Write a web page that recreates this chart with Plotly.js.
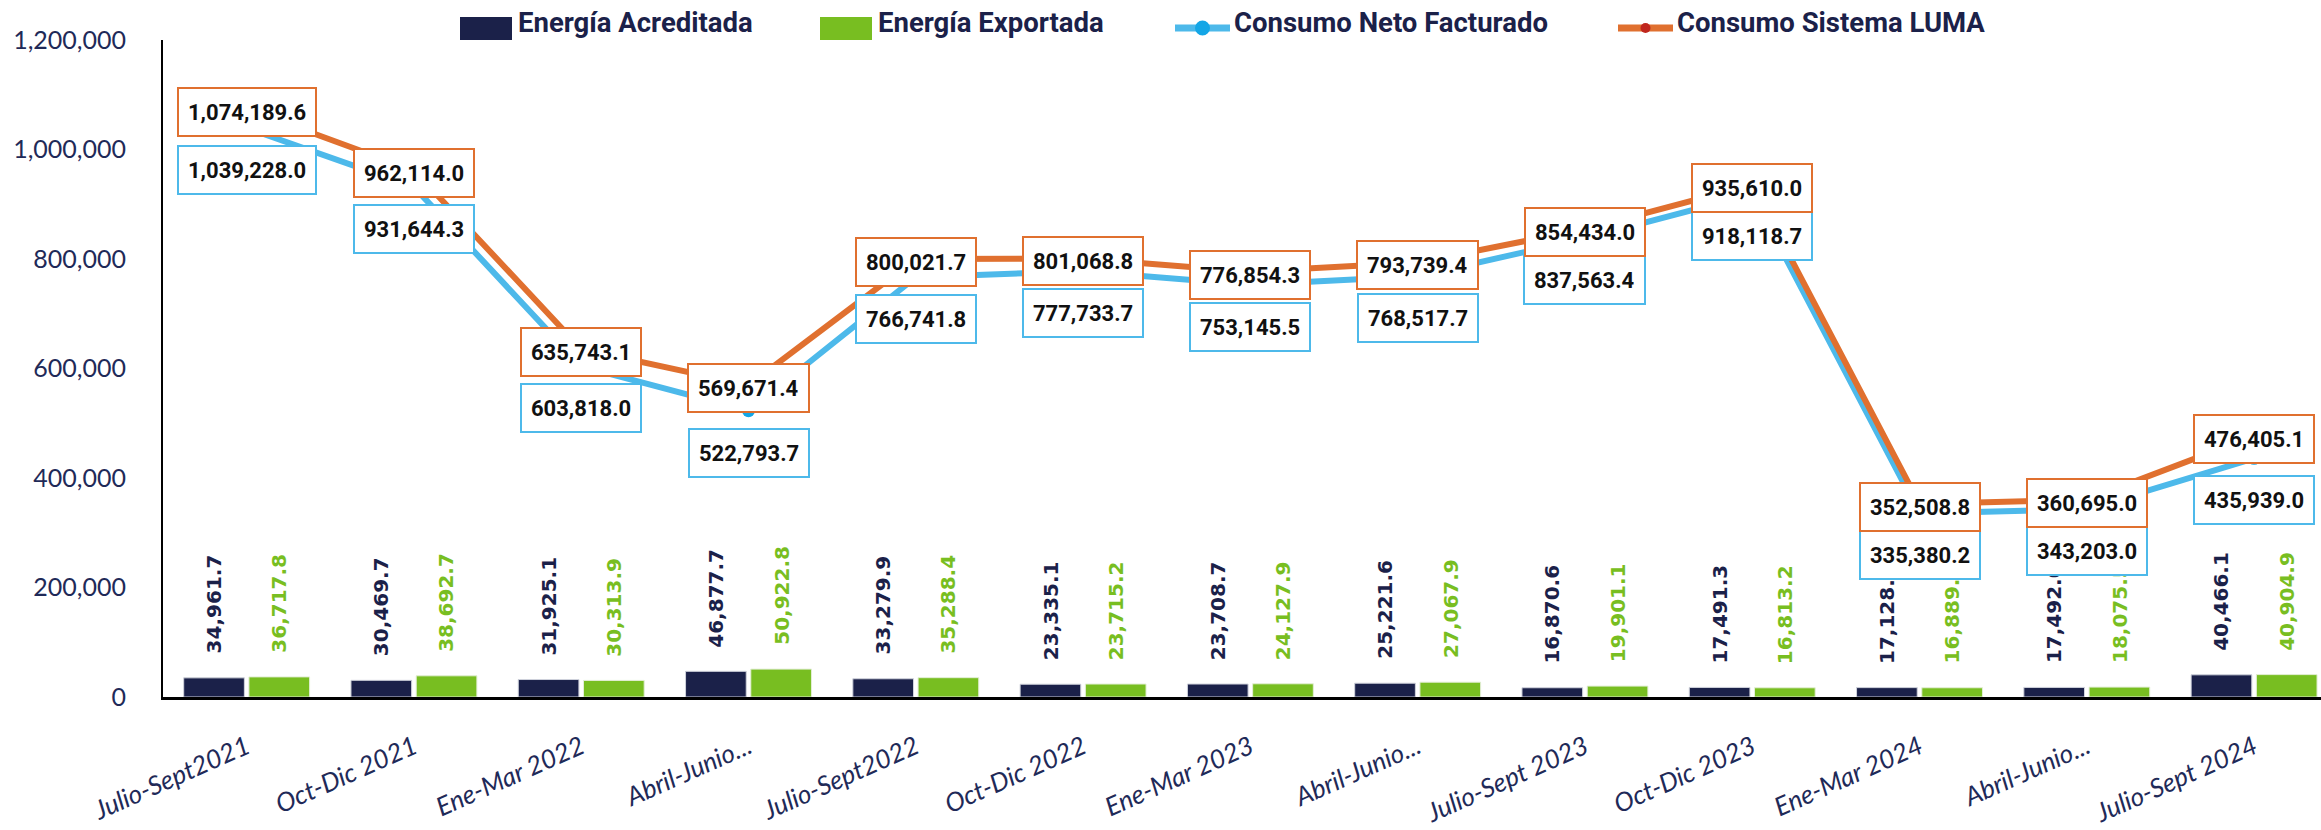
<!DOCTYPE html>
<html><head><meta charset="utf-8">
<script src="https://cdn.plot.ly/plotly-3.0.1.min.js"></script>
<style>html,body{margin:0;padding:0;background:#fff;} #chart{width:2321px;height:830px;}</style>
</head><body><div id="chart"></div>
<script>
// ---------- data ----------
const categories = ["Julio-Sept2021","Oct-Dic 2021","Ene-Mar 2022","Abril-Junio...","Julio-Sept2022","Oct-Dic 2022","Ene-Mar 2023","Abril-Junio...","Julio-Sept 2023","Oct-Dic 2023","Ene-Mar 2024","Abril-Junio...","Julio-Sept 2024"];
const energiaAcreditada = [34961.7,30469.7,31925.1,46877.7,33279.9,23335.1,23708.7,25221.6,16870.6,17491.3,17128.4,17492.0,40466.1];
const energiaExportada  = [36717.8,38692.7,30313.9,50922.8,35288.4,23715.2,24127.9,27067.9,19901.1,16813.2,16889.5,18075.5,40904.9];
const consumoNeto  = [1039228.0,931644.3,603818.0,522793.7,766741.8,777733.7,753145.5,768517.7,837563.4,918118.7,335380.2,343203.0,435939.0];
const consumoLuma  = [1074189.6,962114.0,635743.1,569671.4,800021.7,801068.8,776854.3,793739.4,854434.0,935610.0,352508.8,360695.0,476405.1];
const yTicks = [0,200000,400000,600000,800000,1000000,1200000];
const seriesNames = ["Energía Acreditada","Energía Exportada","Consumo Neto Facturado","Consumo Sistema LUMA"];

// ---------- style ----------
const NAVY='#1B2149', GREEN='#78BE21', BLUE='#4DB9EA', BLUE_MK='#14A6E6', ORANGE='#E0702F', ORANGE_MK='#C0261D', TXT='#1F2A58';
const W=2321, H=830, M={l:163,r:0,t:40,b:133};
const plotW=W-M.l-M.r, plotH=H-M.t-M.b;
const xRange=[-0.5,12.4];
const catPx=plotW/(xRange[1]-xRange[0]);
const BARGAP=0.22, BARGROUPGAP=0.07;
const slotPx=(1-BARGAP)*catPx/2;
const px2x=px=>(px-M.l)/plotW;
const py2y=py=>(H-M.b-py)/plotH;
const fmt=v=>v.toLocaleString('en-US',{minimumFractionDigits:1,maximumFractionDigits:1});
const xs=categories.map((c,i)=>i);

const traces=[
  {type:'bar',name:seriesNames[0],x:xs,y:energiaAcreditada,marker:{color:NAVY,line:{color:'#d0d3dc',width:1}},hoverinfo:'y'},
  {type:'bar',name:seriesNames[1],x:xs,y:energiaExportada,marker:{color:GREEN,line:{color:'#e3eed6',width:1}},hoverinfo:'y'},
  {type:'scatter',mode:'lines+markers',name:seriesNames[2],x:xs,y:consumoNeto,line:{color:BLUE,width:6},marker:{color:BLUE_MK,size:13}},
  {type:'scatter',mode:'lines+markers',name:seriesNames[3],x:xs,y:consumoLuma,line:{color:ORANGE,width:6},marker:{color:ORANGE_MK,size:9}}
];

const annotations=[];
// bar value labels
energiaAcreditada.forEach((v,i)=>annotations.push({x:i,y:v,xref:'x',yref:'y',text:fmt(v),showarrow:false,textangle:-90,
  yanchor:'bottom',xanchor:'center',yshift:22,xshift:-slotPx/2,font:{family:'DejaVu Sans',size:20,color:NAVY,weight:'bold'}}));
energiaExportada.forEach((v,i)=>annotations.push({x:i,y:v,xref:'x',yref:'y',text:fmt(v),showarrow:false,textangle:-90,
  yanchor:'bottom',xanchor:'center',yshift:22,xshift:slotPx/2,font:{family:'DejaVu Sans',size:20,color:GREEN,weight:'bold'}}));
// line value boxes
const boxFont={family:'Roboto',size:22,color:'#111111',weight:'bold'};
consumoNeto.forEach((v,i)=>annotations.push({x:i,y:v,xref:'x',yref:'y',text:fmt(v),showarrow:false,yshift:-42,height:28,
  bgcolor:'#ffffff',bordercolor:BLUE,borderwidth:2,borderpad:9,font:boxFont}));
consumoLuma.forEach((v,i)=>annotations.push({x:i,y:v,xref:'x',yref:'y',text:fmt(v),showarrow:false,yshift:-3,height:28,
  bgcolor:'#ffffff',bordercolor:ORANGE,borderwidth:2,borderpad:9,font:boxFont}));

// custom legend
const legFont={family:'Roboto',size:27.5,color:NAVY,weight:'bold'};
const legendItems=[{sym:'rect',color:NAVY,x:460},{sym:'rect',color:GREEN,x:820},{sym:'line',color:BLUE,mk:BLUE_MK,mks:15,x:1175},{sym:'line',color:ORANGE,mk:ORANGE_MK,mks:10,x:1618}];
const shapes=[];
legendItems.forEach((it,k)=>{
  if(it.sym==='rect'){
    shapes.push({type:'rect',xref:'paper',yref:'paper',x0:px2x(it.x),x1:px2x(it.x+52),y0:py2y(40),y1:py2y(17),fillcolor:it.color,line:{width:0}});
  }else{
    shapes.push({type:'line',xref:'paper',yref:'paper',x0:px2x(it.x),x1:px2x(it.x+55),y0:py2y(28),y1:py2y(28),line:{color:it.color,width:7}});
    const cx=it.x+27.5,r=it.mks/2;
    shapes.push({type:'circle',xref:'paper',yref:'paper',x0:px2x(cx-r),x1:px2x(cx+r),y0:py2y(28+r),y1:py2y(28-r),fillcolor:it.mk,line:{width:0}});
  }
  annotations.push({xref:'paper',yref:'paper',x:px2x(it.x+(it.sym==='rect'?56:57)),y:py2y(23),xanchor:'left',yanchor:'middle',
    text:seriesNames[k],showarrow:false,font:legFont});
});

const layout={
  width:W,height:H,margin:M,paper_bgcolor:'#fff',plot_bgcolor:'#fff',showlegend:false,
  barmode:'group',bargap:BARGAP,bargroupgap:BARGROUPGAP,
  xaxis:{range:xRange,tickmode:'array',tickvals:xs,ticktext:categories,tickangle:-24,showgrid:false,zeroline:false,
    showline:true,linecolor:'#000',linewidth:3,ticks:'',ticklabelstandoff:22,
    tickfont:{family:'Lato',size:26,color:TXT,style:'italic'}},
  yaxis:{range:[0,1200000],tickmode:'array',tickvals:yTicks,tickformat:',d',showgrid:false,zeroline:false,
    showline:true,linecolor:'#000',linewidth:2,ticks:'',ticklabelstandoff:30,
    tickfont:{family:'Lato',size:25,color:TXT}},
  annotations:annotations,shapes:shapes
};
Plotly.newPlot('chart',traces,layout,{displayModeBar:false,staticPlot:true});
</script></body></html>
